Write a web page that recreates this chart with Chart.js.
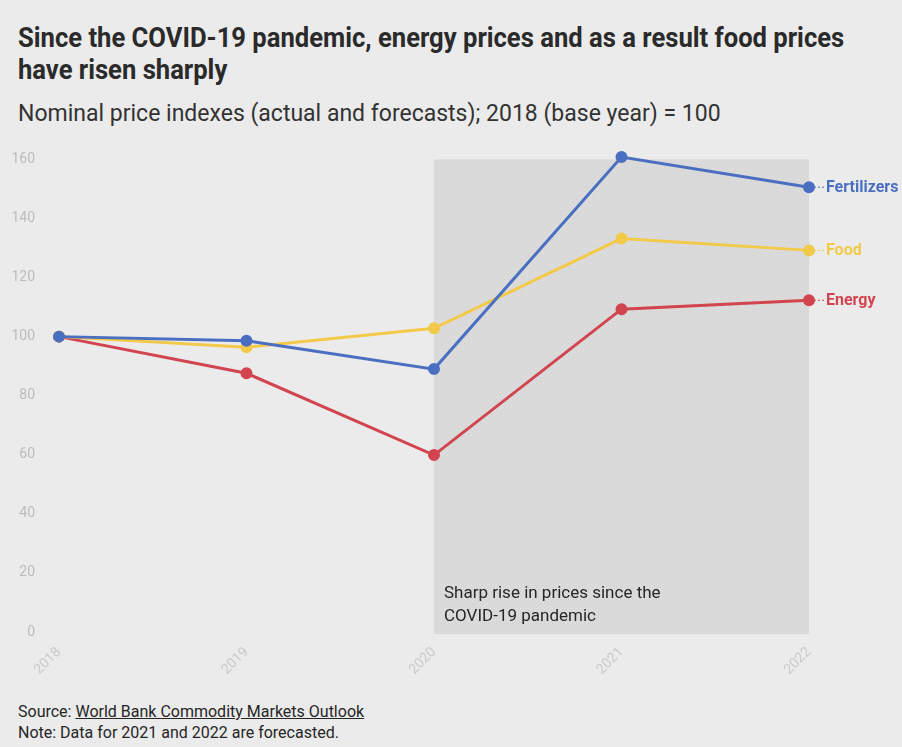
<!DOCTYPE html>
<html>
<head>
<meta charset="UTF-8">
<title>Energy and food prices since COVID-19</title>
<script src="https://cdn.jsdelivr.net/npm/chart.js"></script>
<style>
html, body { margin: 0; padding: 0; background: #ebebeb; }
body { width: 902px; height: 747px; position: relative; overflow: hidden; font-family: Roboto, sans-serif; color: #2b2b2b; }
.title { position: absolute; left: 18px; top: 22px; font-weight: bold; font-size: 27px; line-height: 32px; color: #2a2a2a; transform: scaleX(0.948); transform-origin: left top; white-space: nowrap; }
.subtitle { position: absolute; left: 18px; top: 100px; font-size: 23px; color: #333; white-space: nowrap; }
.chart-box { position: absolute; left: 0; top: 135px; width: 902px; height: 565px; }
.foot { position: absolute; left: 18px; font-size: 16px; color: #262626; white-space: nowrap; }
.foot u { text-decoration: underline; }
</style>
</head>
<body>
<div class="title">Since the COVID-19 pandemic, energy prices and as a result food prices<br>have risen sharply</div>
<div class="subtitle">Nominal price indexes (actual and forecasts); 2018 (base year) = 100</div>
<div class="chart-box"><canvas id="priceChart"></canvas></div>
<div class="foot" style="top:702px">Source: <u>World Bank Commodity Markets Outlook</u></div>
<div class="foot" style="top:723px">Note: Data for 2021 and 2022 are forecasted.</div>
<script>
// Data
const years       = ['2018', '2019', '2020', '2021', '2022'];
const fertilizers = [100, 98.6, 89, 160.8, 150.6];
const food        = [100, 96.4, 102.8, 133.2, 129.2];
const energy      = [100, 87.6, 59.9, 109.3, 112.3];
const yTicks      = [0, 20, 40, 60, 80, 100, 120, 140, 160];

const seriesNames  = ['Fertilizers', 'Food', 'Energy'];
const seriesColors = ['#4a6fc1', '#f3c94a', '#d2444f'];

// Hatched background for the pandemic period
const makeHatch = () => {
    const c   = document.createElement('canvas');
    c.width   = 4;
    c.height  = 4;
    const g   = c.getContext('2d');
    g.fillStyle = '#dbdbdb';
    g.fillRect(0, 0, 4, 4);
    g.fillStyle = '#d1d1d1';
    g.fillRect(0, 0, 1, 1);
    g.fillRect(2, 2, 1, 1);
    return g.createPattern(c, 'repeat');
};

const shadePlugin = {
    id: 'shade',
    beforeDatasetsDraw(chart) {
        const {ctx, scales: {x, y}, chartArea} = chart;
        const x0 = x.getPixelForValue(2);
        const x1 = x.getPixelForValue(4);
        const y0 = y.getPixelForValue(160);
        ctx.save();
        ctx.fillStyle = makeHatch();
        ctx.fillRect(x0, y0, x1 - x0, chartArea.bottom + 2 - y0);
        ctx.fillStyle = '#262626';
        ctx.font = '17px Roboto, sans-serif';
        ctx.textBaseline = 'middle';
        ctx.fillText('Sharp rise in prices since the', x0 + 10, chartArea.bottom - 38);
        ctx.fillText('COVID-19 pandemic', x0 + 10, chartArea.bottom - 15);
        ctx.restore();
    }
};

const endLabelPlugin = {
    id: 'endLabels',
    afterDatasetsDraw(chart) {
        const {ctx} = chart;
        ctx.save();
        chart.data.datasets.forEach((ds, i) => {
            const meta = chart.getDatasetMeta(i);
            const pt   = meta.data[meta.data.length - 1];
            ctx.strokeStyle = ds.borderColor;
            ctx.lineWidth = 1;
            ctx.setLineDash([2, 2]);
            ctx.beginPath();
            ctx.moveTo(pt.x + 5, pt.y);
            ctx.lineTo(pt.x + 15, pt.y);
            ctx.stroke();
            ctx.setLineDash([]);
            ctx.fillStyle = ds.borderColor;
            ctx.font = 'bold 16px Roboto, sans-serif';
            ctx.textBaseline = 'middle';
            ctx.fillText(ds.label, pt.x + 17, pt.y + 1);
        });
        ctx.restore();
    }
};

const seriesData = [fertilizers, food, energy];
const datasets = seriesNames.map((name, i) => ({
    label: name,
    data: seriesData[i],
    borderColor: seriesColors[i],
    backgroundColor: seriesColors[i],
    borderWidth: 3,
    pointRadius: 4.5,
    pointHoverRadius: 4.5,
    tension: 0,
    clip: false,
    order: i
}));

new Chart(document.getElementById('priceChart'), {
    type: 'line',
    data: {labels: years, datasets},
    plugins: [shadePlugin, endLabelPlugin],
    options: {
        responsive: true,
        maintainAspectRatio: false,
        animation: false,
        layout: {padding: {top: 12, right: 93, left: 0, bottom: 0}},
        plugins: {legend: {display: false}, tooltip: {enabled: false}},
        scales: {
            x: {
                grid: {display: false},
                border: {display: false},
                ticks: {color: '#cacaca', font: {size: 14, family: 'Roboto'}, minRotation: 45, maxRotation: 45, padding: 4},
                afterFit: (s) => { s.height = 68; }
            },
            y: {
                min: 0,
                max: 160,
                afterBuildTicks: (s) => { s.ticks = yTicks.map((v) => ({value: v})); },
                grid: {display: false},
                border: {display: false},
                ticks: {color: '#bcbcbc', font: {size: 14, family: 'Roboto'}, padding: 16},
                afterFit: (s) => { s.width = 59; }
            }
        }
    }
});
</script>
</body>
</html>
